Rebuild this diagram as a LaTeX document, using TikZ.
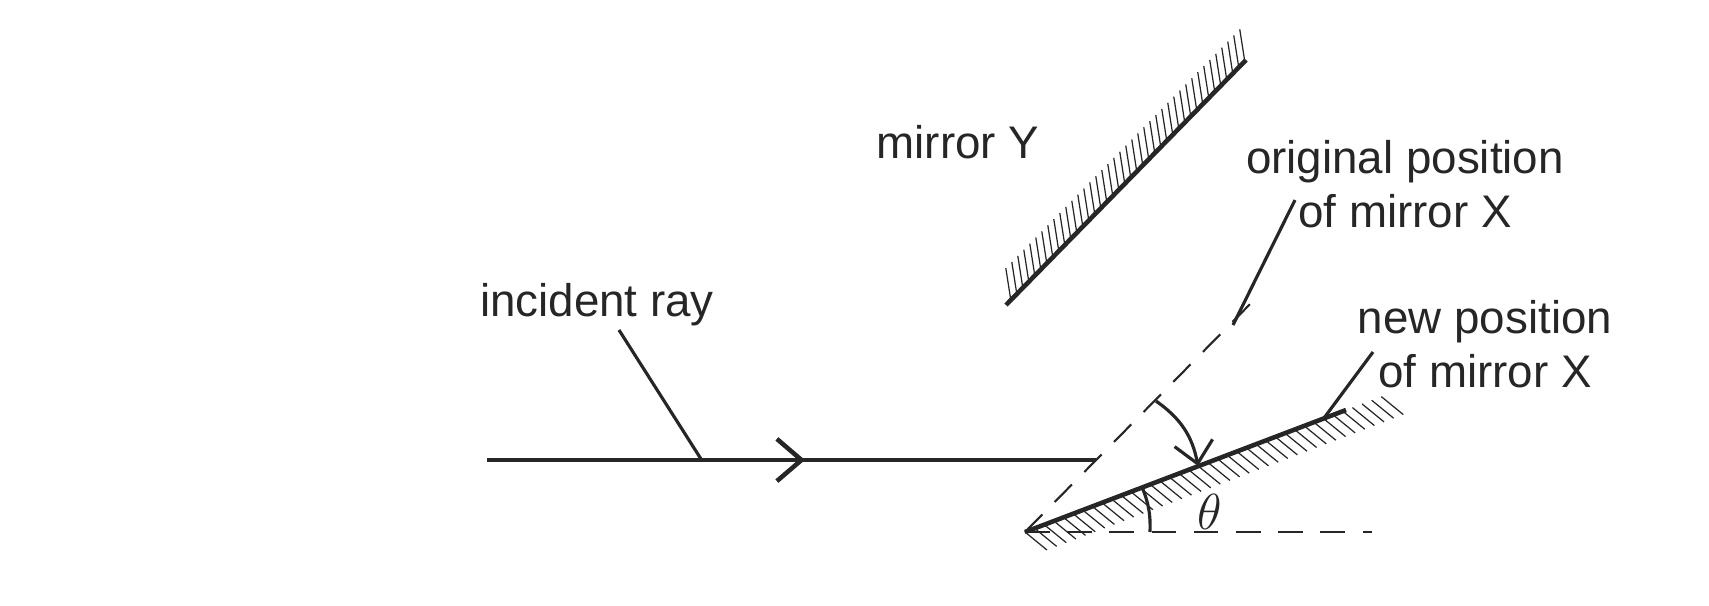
\documentclass[tikz,border=0pt]{standalone}
\usepackage{fontspec}
\setmainfont{Liberation Sans}
\usetikzlibrary{arrows.meta,calc}
\begin{document}
\begin{tikzpicture}[x=0.01cm,y=-0.01cm,
  lbl/.style={font=\fontsize{13}{15.5}\selectfont,text=black!85,align=center,inner sep=0},
  thick line/.style={line width=1.3pt,black!85},
  thin line/.style={line width=0.9pt,black!85},
  hatch/.style={line width=0.35pt,black!85},
  dline/.style={line width=0.6pt,dash pattern=on 7pt off 5pt,black!85}]
\useasboundingbox (0,0) rectangle (1709,605);
% coordinates
\coordinate (P) at (1025,532);
\coordinate (Hend) at (1372,532);
\coordinate (Nend) at (1346,410);
\coordinate (Oend) at (1262,292);
% incident ray
\coordinate (R0) at (487,460);
\coordinate (R1) at (1096,460);
\draw[thick line] (R0) -- (R1);
\draw[thick line,-{Straight Barb[length=7pt,width=12pt]}] (R0) -- (805,460);
% mirror Y
\coordinate (Y0) at (1006,305);
\coordinate (Y1) at (1246,60);
\foreach \t in {0.02,0.045,...,1.0}{
  \draw[hatch] ($(Y0)!\t!(Y1)$) -- ++(-5,-32);
}
\draw[thick line] (Y0) -- (Y1);
% dashed lines
\draw[dline] (P) -- (Hend);
\draw[dline] (P) -- (Oend);
% new mirror X with hatching
\foreach \t in {0.0,0.03,...,1.13}{
  \draw[hatch] ($(P)!\t!(Nend)$) -- ++(22,18);
}
\draw[thick line] (P) -- (Nend);
% angle arcs
\coordinate (A0) at (1156,401);
\coordinate (A1) at (1198,466);
\draw[thin line,-{Straight Barb[length=6pt,width=11pt]}] (A0) to[bend left=22] (A1);
\coordinate (T0) at (1150,532);
\coordinate (T1) at (1142,487);
\draw[thin line] (T0) to[bend right=12] (T1);
\node[lbl,font=\fontsize{14}{16}\selectfont] (th) at (1210,512) {$\theta$};
% labels
\node[lbl] (inc) at (597,305) {incident ray};
\draw[thin line] (701,459) -- (619,330);
\node[lbl] (my) at (958,142) {mirror Y};
\node[lbl] (orig) at (1405,184) {original position\\ of mirror X};
\draw[thin line] (1233,325) -- (1295,200);
\node[lbl] (new) at (1485,344) {new position\\ of mirror X};
\draw[thin line] (1324,418) -- (1373,352);
\end{tikzpicture}
\end{document}
